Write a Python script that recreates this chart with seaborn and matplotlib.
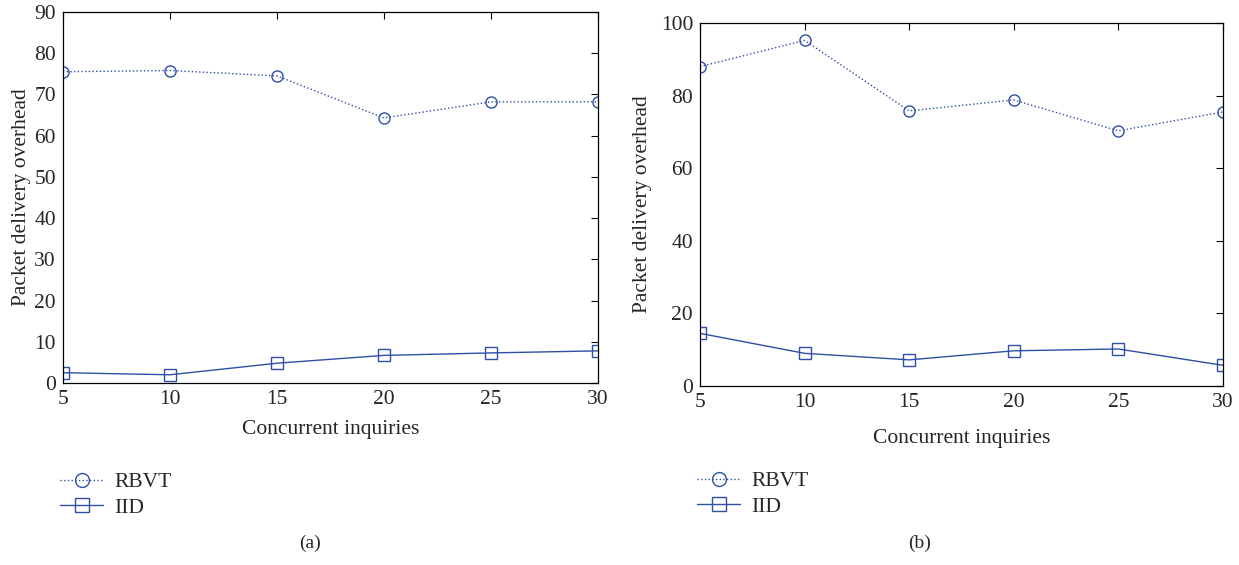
import matplotlib
matplotlib.use("Agg")
import matplotlib.pyplot as plt
import seaborn as sns

inquiries = [5, 10, 15, 20, 25, 30]
rbvt_a = [75.5, 75.8, 74.5, 64.3, 68.2, 68.2]
iid_a = [2.5, 2.0, 4.8, 6.7, 7.3, 7.8]
rbvt_b = [88.0, 95.2, 75.8, 78.8, 70.3, 75.5]
iid_b = [14.5, 9.0, 7.2, 9.7, 10.2, 5.7]

sns.set_style("white")
plt.rcParams["font.family"] = ["Liberation Serif", "DejaVu Serif"]

blue = "#2f4ea6"

fig = plt.figure(figsize=(12.39, 5.65), dpi=100)
ax_a = fig.add_axes([0.0508, 0.3221, 0.4318, 0.6567])
ax_b = fig.add_axes([0.5650, 0.3168, 0.4220, 0.6425])


def draw(ax, rbvt, iid, ymax, yticks, caption, cap_x, xpad, ypad, leg_x, leg_y):
    sns.lineplot(x=inquiries, y=rbvt, ax=ax, color=blue, linestyle=":", lw=1.0,
                 marker="o", markersize=8, markerfacecolor="none",
                 markeredgecolor=blue, markeredgewidth=1.0, label="RBVT")
    sns.lineplot(x=inquiries, y=iid, ax=ax, color=blue, linestyle="-", lw=1.0,
                 marker="s", markersize=8, markerfacecolor="none",
                 markeredgecolor=blue, markeredgewidth=1.0, label="IID")
    ax.set_xlim(5, 30)
    ax.set_ylim(0, ymax)
    ax.set_xticks(inquiries)
    ax.set_yticks(yticks)
    ax.tick_params(direction="in", top=True, right=True, labelsize=15.5,
                   length=5, width=0.8, color="black", pad=5)
    for s in ax.spines.values():
        s.set_color("black")
        s.set_linewidth(0.9)
    ax.set_xlabel("Concurrent inquiries", fontsize=15.5, labelpad=xpad)
    ax.set_ylabel("Packet delivery overhead", fontsize=15.5, labelpad=ypad)
    ax.legend(loc="upper left", bbox_to_anchor=(leg_x, leg_y), frameon=False,
              fontsize=15.5, handlelength=2.0, handletextpad=0.5,
              labelspacing=0.25, borderaxespad=0, borderpad=0,
              markerscale=1.25)
    fig.text(cap_x, 0.03, caption, fontsize=14, ha="center")


draw(ax_a, rbvt_a, iid_a, 90, range(0, 91, 10), "(a)", 0.2505, 8, 2, -0.005, -0.24)
draw(ax_b, rbvt_b, iid_b, 100, range(0, 101, 20), "(b)", 0.7425, 12, 6, -0.005, -0.235)

fig.savefig("out.png", dpi=100)
